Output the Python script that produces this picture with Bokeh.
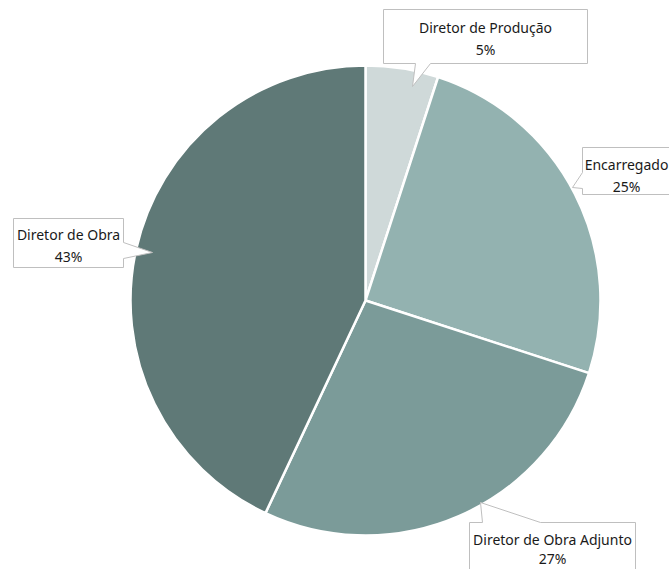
import math
from bokeh.plotting import figure
from bokeh.models import Range1d, ColumnDataSource
from bokeh.core.properties import value
from bokeh.embed import file_html
from bokeh.resources import INLINE

# ---- data ----
categories = ["Diretor de Produção", "Encarregado", "Diretor de Obra Adjunto", "Diretor de Obra"]
percentages = [5, 25, 27, 43]
colors = ["#cfd9d9", "#93b2b0", "#7b9b99", "#5f7977"]

W, H = 669, 569
CX, CY, R = 365, 300, 235  # pixel coordinates (y down)

def Y(py):
    return H - py

p = figure(width=W, height=H, output_backend="svg", toolbar_location=None,
           x_range=Range1d(0, W), y_range=Range1d(0, H), min_border=0)
p.axis.visible = False
p.grid.visible = False
p.outline_line_color = None
p.background_fill_color = "white"
p.border_fill_color = "white"

total = sum(percentages)
starts, ends = [], []
cum = 0
for v in percentages:
    starts.append(math.pi / 2 - 2 * math.pi * cum / total)
    cum += v
    ends.append(math.pi / 2 - 2 * math.pi * cum / total)

src = ColumnDataSource(dict(x=[CX] * 4, y=[Y(CY)] * 4, start=starts, end=ends,
                            color=colors, cat=categories))
p.wedge(x="x", y="y", radius=R, radius_units="data", start_angle="start", end_angle="end",
        direction="clock", fill_color="color", line_color="white", line_width=2.5, source=src)

# ---- callout boxes (layout only), in the same order as categories ----
# each: polygon in pixel coords (box + pointer), text center x, line1 y, line2 y
callouts = [
    ([(383, 9), (587, 9), (587, 63), (430, 63), (412, 86), (415, 63), (383, 63)], 485, 27, 49),
    ([(582, 147), (680, 147), (680, 194), (582, 194), (582, 188), (572, 187), (582, 172)], 626, 164, 186),
    ([(469, 522), (482, 522), (480, 502), (540, 522), (635, 522), (635, 590), (469, 590)], 552, 539, 558),
    ([(13, 218), (123, 218), (123, 242), (152, 252), (123, 258), (123, 267), (13, 267)], 68, 234, 256),
]
for i, (poly, tx, ty1, ty2) in enumerate(callouts):
    xs = [q[0] for q in poly]
    ys = [Y(q[1]) for q in poly]
    p.patch(xs, ys, fill_color="white", line_color="#bfbfbf", line_width=1)
    pct = f"{percentages[i]}%"
    p.text(x=[tx, tx], y=[Y(ty1), Y(ty2)], text=[categories[i], pct],
           text_align="center", text_baseline="middle",
           text_font=value("Noto Sans"), text_font_size="14px", text_color="#1a1a1a")

open("out.html", "w").write(file_html(p, INLINE))
